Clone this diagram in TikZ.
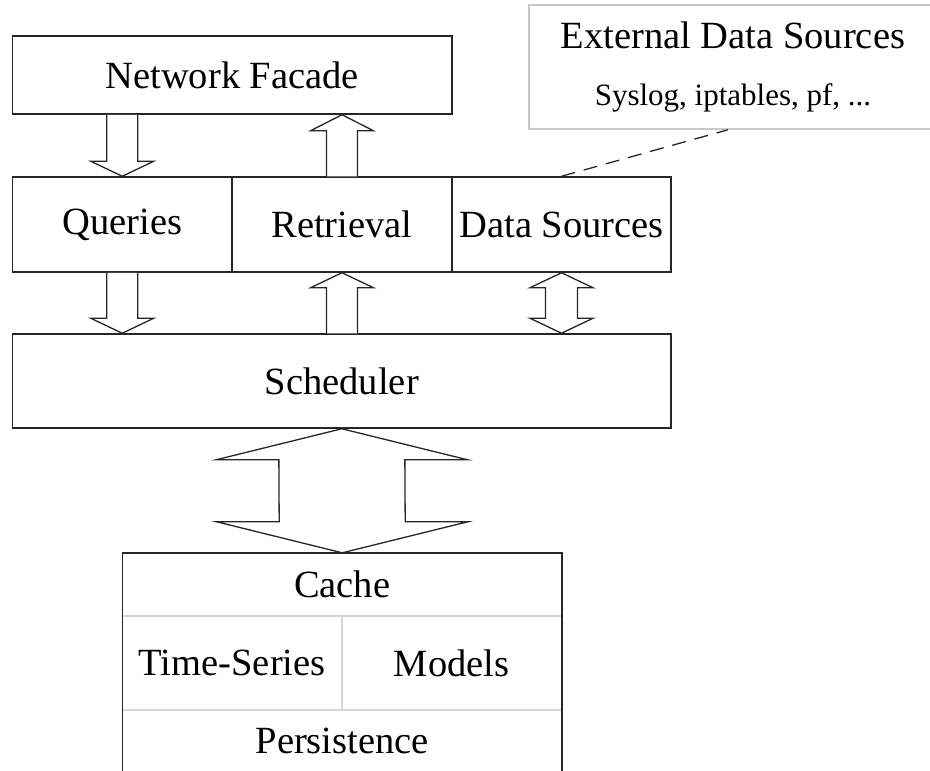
\documentclass[tikz,border=0pt]{standalone}
\usepackage{fontspec}
\setmainfont{Liberation Serif}
\usetikzlibrary{calc}
\tikzset{
  lbl/.style={font=\fontsize{38.5pt}{46pt}\selectfont},
  sublbl/.style={font=\fontsize{31pt}{37pt}\selectfont},
  box/.style={draw=black!85, line width=1.5pt, rectangle, inner sep=0pt, lbl},
  cell/.style={rectangle, inner sep=0pt, lbl},
  divider/.style={draw=black!16, line width=1.5pt},
  extbox/.style={draw=black!22, line width=1.5pt, rectangle, inner sep=0pt},
  blk/.style={draw=black!85, line width=1.3pt, fill=white, line join=miter},
  link/.style={draw=black!85, line width=1.3pt, dash pattern=on 14pt off 9pt}
}
% block arrow pointing down: #1 start, #2 tip, #3 shaft half width, #4 head half width, #5 head length
\newcommand{\BAdown}[5]{%
  \draw[blk] ($(#1)+(-#3,0)$) -- ($(#2)+(-#3,-#5)$) -- ($(#2)+(-#4,-#5)$) -- (#2)
    -- ($(#2)+(#4,-#5)$) -- ($(#2)+(#3,-#5)$) -- ($(#1)+(#3,0)$);}
\newcommand{\BAup}[5]{%
  \draw[blk] ($(#1)+(-#3,0)$) -- ($(#2)+(-#3,#5)$) -- ($(#2)+(-#4,#5)$) -- (#2)
    -- ($(#2)+(#4,#5)$) -- ($(#2)+(#3,#5)$) -- ($(#1)+(#3,0)$);}
% double block arrow: #1 upper tip, #2 lower tip
\newcommand{\BAboth}[5]{%
  \draw[blk] (#1) -- ($(#1)+(-#4,#5)$) -- ($(#1)+(-#3,#5)$) -- ($(#2)+(-#3,-#5)$)
    -- ($(#2)+(-#4,-#5)$) -- (#2) -- ($(#2)+(#4,-#5)$) -- ($(#2)+(#3,-#5)$)
    -- ($(#1)+(#3,#5)$) -- ($(#1)+(#4,#5)$) -- cycle;}
\begin{document}
\begin{tikzpicture}[x=1pt,y=-1pt]
\useasboundingbox (0,0) rectangle (930,771);
\clip (0,0) rectangle (930,771);

% external data sources
\node[extbox, minimum width=408pt, minimum height=124pt] (ext) at (733,67) {};
\node[lbl, anchor=base] (exttitle) at (733,48) {External Data Sources};
\node[sublbl, anchor=base] (extsub) at (733,105) {Syslog, iptables, pf, ...};

% main boxes
\node[box, minimum width=439.5pt, minimum height=78pt] (facade) at (232.25,75) {Network Facade};
\node[box, minimum width=219.5pt, minimum height=95pt] (queries) at (122.25,224.5) {Queries};
\node[box, minimum width=220pt, minimum height=95pt] (retrieval) at (342,224.5) {Retrieval};
\node[box, minimum width=219pt, minimum height=95pt] (datasrc) at (561.5,224.5) {Data Sources};
\node[box, minimum width=658.3pt, minimum height=94pt] (sched) at (341.85,381) {Scheduler};

% storage stack
\node[cell, minimum width=439pt, minimum height=63pt] (cache) at (342.2,584.5) {Cache};
\node[cell, minimum width=219pt, minimum height=94pt] (ts) at (232.2,663) {Time-Series};
\node[cell, minimum width=220pt, minimum height=94pt] (models) at (451.7,663) {Models};
\node[cell, minimum width=439pt, minimum height=61pt] (persist) at (342.2,740.5) {Persistence};
\draw[divider] (cache.south west) -- (cache.south east);
\draw[divider] (ts.north east) -- (ts.south east);
\draw[divider] (ts.south west) -- (models.south east);
\draw[draw=black!85, line width=1.5pt] ($(persist.south west)+(0,6)$) -- (cache.north west) -- (cache.north east) -- ($(persist.south east)+(0,6)$);

% block arrows
\BAdown{queries.north |- facade.south}{queries.north}{15.5}{31.5}{15}
\BAup{retrieval.north}{retrieval.north |- facade.south}{15.5}{31.5}{16}
\BAdown{queries.south}{queries.south |- sched.north}{15.5}{31.5}{15}
\BAup{retrieval.south |- sched.north}{retrieval.south}{15.5}{31.5}{15}
\BAboth{datasrc.south}{datasrc.south |- sched.north}{16}{31.5}{15}
\BAboth{sched.south}{cache.north}{63}{125.5}{31}

% dashed link
\draw[link] (datasrc.north) -- ([xshift=-5pt]ext.south);
\end{tikzpicture}
\end{document}
